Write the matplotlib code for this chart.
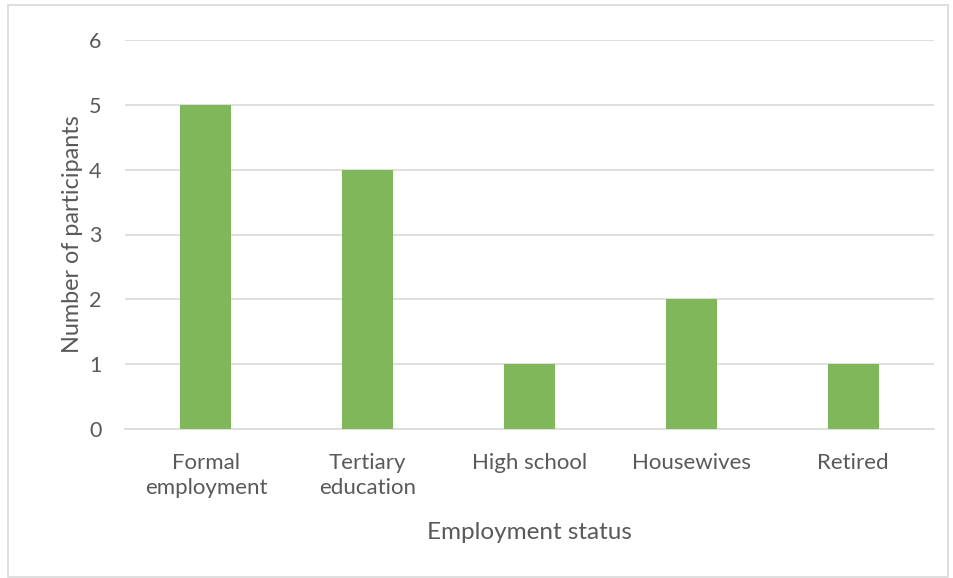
import matplotlib.pyplot as plt
from matplotlib.patches import Rectangle

categories = ["Formal\nemployment", "Tertiary\neducation", "High school", "Housewives", "Retired"]
participants = [5, 4, 1, 2, 1]

plt.rcParams['font.family'] = ['Lato', 'DejaVu Sans']
textColor = '#595959'

fig = plt.figure(figsize=(9.54, 5.78), dpi=100)
ax = fig.add_axes([125 / 954, 1 - 429 / 578, (934 - 125) / 954, (429 - 40) / 578])

x = range(len(categories))
ax.bar(x, participants, width=0.315, color='#80b75a', zorder=3)

ax.set_xlim(-0.5, len(categories) - 0.5)
ax.set_ylim(0, 6)
ax.set_yticks(range(0, 7))
ax.set_xticks(list(x))
ax.set_xticklabels(categories, fontsize=16, color=textColor, linespacing=1.35)
ax.tick_params(axis='y', labelsize=15.5, labelcolor=textColor, length=0, pad=17)
ax.tick_params(axis='x', length=0, pad=17)
ax.grid(axis='y', color='#d9d9d9', linewidth=1.2, zorder=0)
for side in ['top', 'right', 'left']:
    ax.spines[side].set_visible(False)
ax.spines['bottom'].set_color('#d9d9d9')
ax.spines['bottom'].set_linewidth(1.2)

ax.set_xlabel('Employment status', fontsize=17.5, color=textColor, labelpad=17)
ax.set_ylabel('Number of participants', fontsize=16.8, color=textColor, labelpad=4)

# light frame round the whole chart
fig.patches.append(Rectangle((8 / 954, 0.002), 940 / 954, 1 - 5 / 578 - 0.002,
                             transform=fig.transFigure, fill=False,
                             edgecolor='#d9d9d9', linewidth=1.2))

fig.savefig('out.png', dpi=100)
